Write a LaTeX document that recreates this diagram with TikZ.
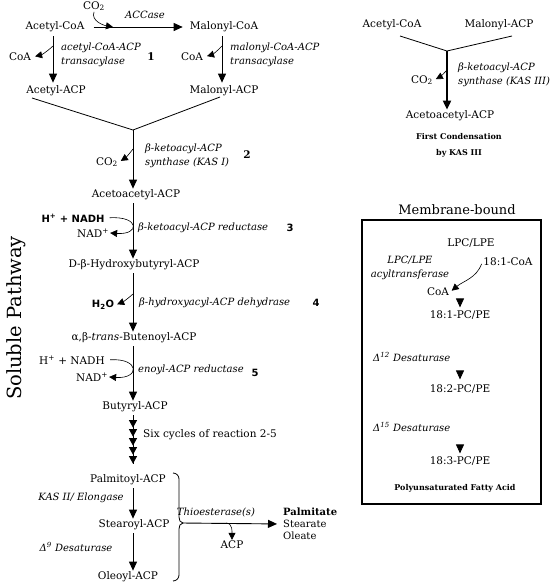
\documentclass[tikz,border=0pt]{standalone}
\usepackage{fontspec}
\setmainfont{DejaVu Serif}
\setsansfont{DejaVu Sans}
\usetikzlibrary{arrows.meta}
\begin{document}
\begin{tikzpicture}[x=1pt,y=-1pt,
  lab/.style={font=\fontsize{10.5}{13}\selectfont, inner sep=1pt},
  enz/.style={font=\fontsize{10}{14}\selectfont\itshape, inner sep=0pt, align=left, anchor=west},
  num/.style={font=\fontsize{10.5}{13}\selectfont\bfseries},
  snum/.style={font=\sffamily\bfseries\fontsize{10}{12}\selectfont},
  sb/.style={font=\sffamily\bfseries\fontsize{10}{12}\selectfont, inner sep=1pt},
  smallb/.style={font=\bfseries\fontsize{8}{16}\selectfont, align=center},
  main/.style={line width=0.9pt, -{Triangle[length=9pt,width=8pt]}},
  side/.style={line width=0.6pt, -{Triangle[length=7pt,width=7pt]}},
  conn/.style={line width=0.8pt}]
\useasboundingbox (0,0) rectangle (550,584);

% ---------- left: initiation ----------
\node[lab] (acoa) at (55,27) {Acetyl-CoA};
\node[lab] (mcoa) at (224,27) {Malonyl-CoA};
\node[lab] (co2a) at (94,6) {CO\textsubscript{2}};
\node[enz, anchor=center] (accase) at (145,15) {ACCase};
\coordinate (h1) at (113,27);
\draw[main] ([xshift=8pt]acoa.east) -- ([xshift=-6pt]mcoa.west);
\draw[side] (co2a.south) to[out=-110,in=170] (h1);

\coordinate (lx) at (53,0);
\coordinate (rx) at (222,0);
\node[lab] (aacp) at (56,91) {Acetyl-ACP};
\node[lab] (macp) at (224,91) {Malonyl-ACP};
\draw[main, shorten <=3pt, shorten >=2pt] (acoa.south -| lx) -- (aacp.north -| lx);
\draw[main, shorten <=3pt, shorten >=2pt] (mcoa.south -| rx) -- (macp.north -| rx);
\node[lab] (coa1) at (20,57) {CoA};
\node[lab] (coa2) at (192,57) {CoA};
\coordinate (s1) at (53,46);
\coordinate (s2) at (222,46);
\draw[side, shorten >=3pt] (s1) to[bend left=15] (coa1.east);
\draw[side, shorten >=3pt] (s2) to[bend left=15] (coa2.east);
\node[enz] (e1) at (61,55) {acetyl-CoA-ACP\\transacylase};
\node[num] (n1) at (151,57) {1};
\node[enz] (e1b) at (230,55) {malonyl-CoA-ACP\\transacylase};

% ---------- condensation (KAS I) ----------
\coordinate (vl) at (32,98);
\coordinate (vr) at (220,97);
\coordinate (v1) at (133,130);
\draw[conn] (vl) -- (v1) -- (vr);
\node[lab] (aa1) at (136,195) {Acetoacetyl-ACP};
\draw[main] (v1) -- (aa1.north -| v1);
\node[lab] (co2b) at (107,162) {CO\textsubscript{2}};
\coordinate (s3) at (133,149);
\draw[side, shorten >=2pt] (s3) to[bend left=10] (co2b.east);
\node[enz] (e2) at (145,156) {β-ketoacyl-ACP\\synthase (KAS I)};
\node[num] (n2) at (247,155) {2};

% ---------- step 3 ----------
\node[lab] (hb) at (134,265) {D-β-Hydroxybutyryl-ACP};
\draw[main, shorten <=2pt] (aa1.south -| v1) -- (hb.north -| v1);
\node[sb] (hn1) at (73,218) {H\textsuperscript{+} + NADH};
\node[lab] (nad1) at (93,233) {NAD\textsuperscript{+}};
\draw[side, shorten <=4pt] (hn1.east) .. controls (140,216) and (140,235) .. (nad1.east);
\node[enz] (e3) at (138,228) {β-ketoacyl-ACP reductase};
\node[snum] (n3) at (290,228) {3};

% ---------- step 4 ----------
\node[lab] (bt) at (134,338) {α,β-\textit{trans}-Butenoyl-ACP};
\draw[main, shorten <=2pt] (hb.south -| v1) -- (bt.north -| v1);
\node[sb] (h2o) at (103,305) {H\textsubscript{2}O};
\coordinate (s4) at (133,294);
\draw[side, shorten >=2pt] (s4) to[bend left=10] (h2o.east);
\node[enz] (e4) at (139,303) {β-hydroxyacyl-ACP dehydrase};
\node[snum] (n4) at (316,303) {4};

% ---------- step 5 ----------
\node[lab] (bu) at (135,407) {Butyryl-ACP};
\draw[main, shorten <=2pt] (bt.south -| v1) -- (bu.north -| v1);
\node[lab] (hn2) at (72,360) {H\textsuperscript{+} + NADH};
\node[lab] (nad2) at (92,377) {NAD\textsuperscript{+}};
\draw[side, shorten <=4pt] (hn2.east) .. controls (140,358) and (140,379) .. (nad2.east);
\node[enz] (e5) at (138,370) {enoyl-ACP reductase};
\node[snum] (n5) at (255,373) {5};

% ---------- six cycles ----------
\node[lab] (pa) at (128,480) {Palmitoyl-ACP};
\draw[line width=0.9pt, shorten <=2pt, shorten >=10pt] (bu.south -| v1) -- (pa.north -| v1);
\draw[line width=0.9pt, shorten <=2pt, shorten >=10pt,
  -{Triangle[length=7.5pt,width=8pt,sep=1.5pt]Triangle[length=7.5pt,width=8pt,sep=1.5pt]Triangle[length=7.5pt,width=8pt,sep=1.5pt]Triangle[length=7.5pt,width=8pt,sep=1.5pt]Triangle[length=7.5pt,width=8pt]}]
  (bu.south -| v1) -- (pa.north -| v1);
\node[lab, anchor=west] (six) at (142,435) {Six cycles of reaction 2-5};

% ---------- elongation / desaturation ----------
\node[lab] (st) at (134,525) {Stearoyl-ACP};
\draw[main, shorten <=2pt] (pa.south -| v1) -- (st.north -| v1);
\node[enz, anchor=center] (kas2) at (81,498) {KAS II/ Elongase};
\node[lab] (ol) at (128,577) {Oleoyl-ACP};
\draw[main, shorten <=2pt] (st.south -| v1) -- (ol.north -| v1);
\node[enz, anchor=center] (d9) at (76,547) {Δ\textsuperscript{9} Desaturase};

% brace
\draw[conn] (173,473) to[out=0,in=90] (179,479) -- (179,517) to[out=-90,in=180] (183,523)
            to[out=180,in=90] (179,529) -- (179,575) to[out=-90,in=0] (173,581);
\coordinate (br) at (182,523);
\node[lab, anchor=west, align=left, font=\fontsize{10}{12}\selectfont] (prod) at (282,524) {\textbf{Palmitate}\\Stearate\\Oleate};
\draw[main, shorten >=5pt] (br) -- (prod.west);
\node[enz, anchor=center] (te) at (216,512) {Thioesterase(s)};
\node[lab] (acp) at (232,545) {ACP};
\coordinate (s6) at (226,523);
\draw[side] (s6) to[out=0,in=90] (acp.north);

\node[font=\fontsize{19.5}{22}\selectfont, rotate=90] (sol) at (16,318) {Soluble Pathway};

% ---------- right: first condensation ----------
\node[lab] (racoa) at (392,25) {Acetyl-CoA};
\node[lab] (rmacp) at (499,25) {Malonyl-ACP};
\coordinate (rvl) at (400,36);
\coordinate (rvr) at (512,36);
\coordinate (rv) at (447,51);
\draw[conn] (rvl) -- (rv) -- (rvr);
\node[lab] (raa) at (450,116) {Acetoacetyl-ACP};
\draw[line width=1.8pt, -{Triangle[length=9pt,width=8pt]}] (rv) -- (raa.north -| rv);
\node[lab] (rco2) at (422,80) {CO\textsubscript{2}};
\coordinate (s7) at (447,70);
\draw[side, shorten >=2pt] (s7) to[bend left=10] (rco2.east);
\node[enz] (re) at (458,75) {β-ketoacyl-ACP\\synthase (KAS III)};
\node[smallb] (fc) at (459,145) {First Condensation\\by KAS III};

% ---------- membrane-bound ----------
\node[font=\fontsize{13}{15}\selectfont] (mb) at (457,210) {Membrane-bound};
\draw[line width=1.8pt] (362,220) rectangle (541,504);
\node[lab] (lpc) at (471,243) {LPC/LPE};
\node[enz, align=center, anchor=center] (lpct) at (410,268) {LPC/LPE\\acyltransferase};
\node[lab] (c181) at (508,262) {18:1-CoA};
\node[lab] (coa3) at (438,292) {CoA};
\node[lab] (pc1) at (460,315) {18:1-PC/PE};
\draw[side, shorten <=2pt, shorten >=2pt] (c181.west) to[out=-110,in=40] (coa3.east);
\draw[main, shorten <=50pt, shorten >=2pt] (lpc.south -| pc1) -- (pc1.north);
\node[enz] (d12) at (373,357) {Δ\textsuperscript{12} Desaturase};
\node[lab] (pc2) at (460,389) {18:2-PC/PE};
\draw[main, shorten <=52pt, shorten >=4pt] (pc1.south) -- (pc2.north);
\node[enz] (d15) at (373,427) {Δ\textsuperscript{15} Desaturase};
\node[lab] (pc3) at (460,461) {18:3-PC/PE};
\draw[main, shorten <=52pt, shorten >=2pt] (pc2.south) -- (pc3.north);
\node[smallb] (pufa) at (455,488) {Polyunsaturated Fatty Acid};
\end{tikzpicture}
\end{document}
